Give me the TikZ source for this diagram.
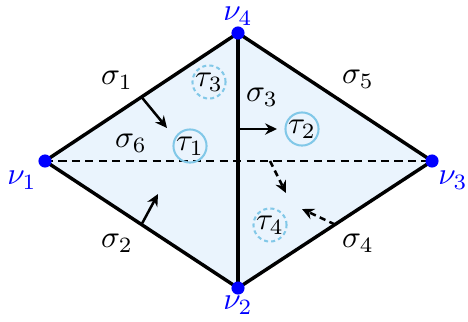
\documentclass[tikz,border=0pt]{standalone}
\usetikzlibrary{arrows.meta}
\definecolor{fillblue}{RGB}{234,244,253}
\definecolor{vblue}{RGB}{0,0,255}
\definecolor{ringblue}{RGB}{130,200,232}
\begin{document}
\begin{tikzpicture}[x=0.32pt,y=-0.32pt,
  edge/.style={line width=1.1pt},
  dashedge/.style={line width=0.7pt,dash pattern=on 2.6pt off 1.7pt},
  normal/.style={line width=0.8pt,-{Stealth[length=3.8pt,width=3.6pt]}},
  dnormal/.style={line width=0.8pt,dash pattern=on 2pt off 1.4pt,-{Stealth[length=3.8pt,width=3.6pt]}},
  vert/.style={circle,fill=vblue,inner sep=0pt,minimum size=4.2pt},
  vlab/.style={text=vblue,inner sep=0pt},
  ring/.style={circle,draw=ringblue,line width=0.65pt,inner sep=0pt,minimum size=9.8pt},
  dring/.style={ring,dash pattern=on 1.3pt off 1pt},
  lab/.style={inner sep=0pt}]
\useasboundingbox (0,0) rectangle (468,321);
\coordinate (v1) at (45,161);
\coordinate (v4) at (238,33);
\coordinate (v3) at (432,161);
\coordinate (v2) at (238,288);
\fill[fillblue] (v1) -- (v4) -- (v3) -- (v2) -- cycle;
\draw[dashedge] (v1) -- (v3);
\draw[edge,line join=round] (v1) -- (v4) -- (v3) -- (v2) -- cycle;
\draw[edge] (v4) -- (v2);
% normals
\coordinate (a1) at (141.5,97);
\coordinate (a1e) at (167,128);
\draw[normal] (a1) -- (a1e);
\coordinate (a2) at (141.5,224.5);
\coordinate (a2e) at (158,194);
\draw[normal] (a2) -- (a2e);
\coordinate (a3) at (238,129);
\coordinate (a3e) at (277,129);
\draw[normal] (a3) -- (a3e);
\coordinate (a6) at (270,161);
\coordinate (a6e) at (286,193);
\draw[dnormal] (a6) -- (a6e);
\coordinate (a4) at (335,224.5);
\coordinate (a4e) at (302,209);
\draw[dnormal] (a4) -- (a4e);
% vertices
\node[vert] (n1) at (v1) {};
\node[vert] (n2) at (v2) {};
\node[vert] (n3) at (v3) {};
\node[vert] (n4) at (v4) {};
\node[vlab] (l1) at (22,180) {$\nu_1$};
\node[vlab] (l2) at (238,305) {$\nu_2$};
\node[vlab] (l3) at (453,180) {$\nu_3$};
\node[vlab] (l4) at (238,16) {$\nu_4$};
% sigma labels
\node[lab] (s1) at (117,80) {$\sigma_1$};
\node[lab] (s2) at (117,243) {$\sigma_2$};
\node[lab] (s3) at (262,97) {$\sigma_3$};
\node[lab] (s4) at (358,243) {$\sigma_4$};
\node[lab] (s5) at (358,79) {$\sigma_5$};
\node[lab] (s6) at (131,143) {$\sigma_6$};
% tau labels
\node[ring] (t1) at (190,146) {$\tau_1$};
\node[ring] (t2) at (302,129) {$\tau_2$};
\node[dring] (t3) at (209,82) {$\tau_3$};
\node[dring] (t4) at (270,225) {$\tau_4$};
\end{tikzpicture}
\end{document}
